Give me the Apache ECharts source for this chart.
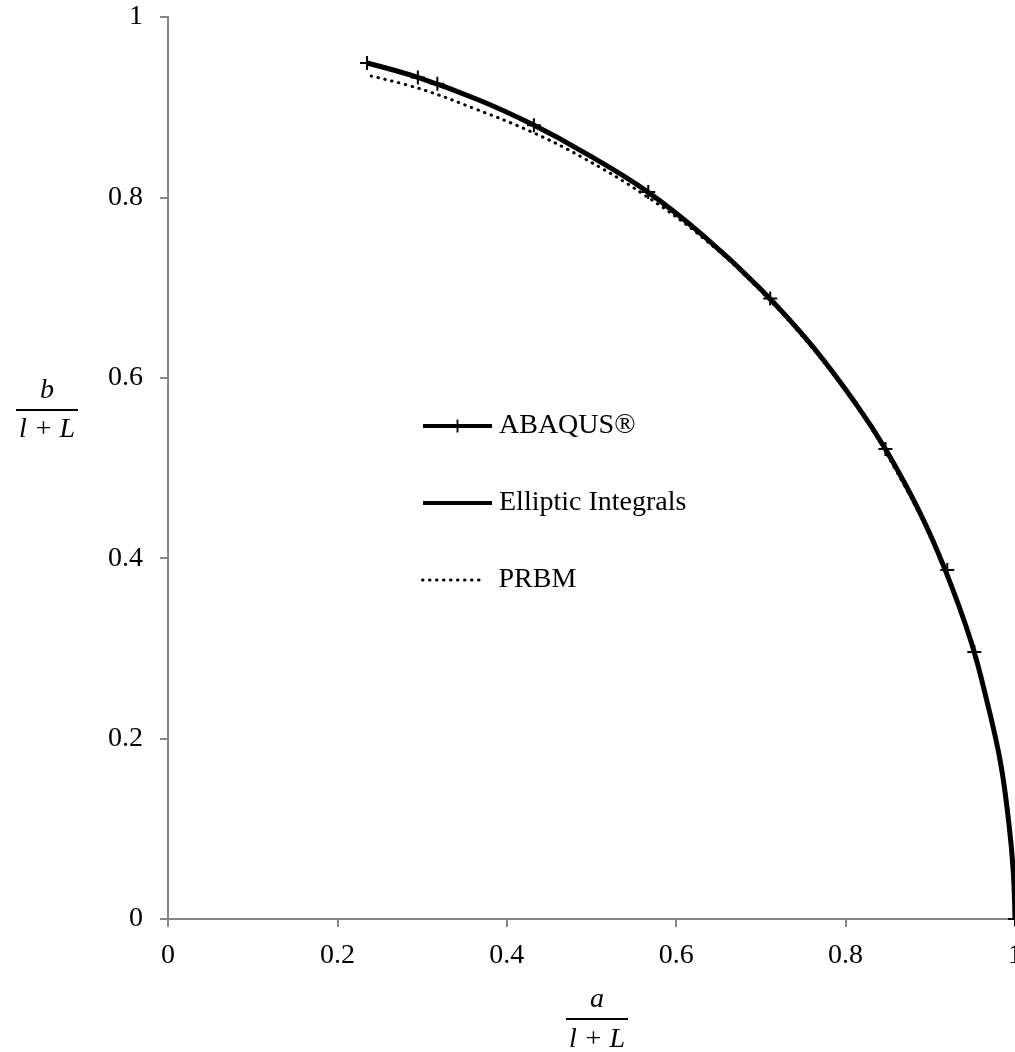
<!DOCTYPE html>
<html>
<head>
<meta charset="utf-8">
<script src="https://cdn.jsdelivr.net/npm/echarts@6/dist/echarts.min.js"></script>
<style>
html,body{margin:0;padding:0;background:#fff;}
#c{width:1015px;height:1052px;}
</style>
</head>
<body>
<div id="c"></div>
<script>
// ---- data ----
var abaqusX = [0.235, 0.295, 0.318, 0.432, 0.567, 0.711, 0.847, 0.920, 0.952, 1.0];
var abaqusY = [0.949, 0.933, 0.926, 0.880, 0.806, 0.688, 0.521, 0.387, 0.296, 0.0];

var ellipticX = [0.235, 0.295, 0.367, 0.430, 0.491, 0.565, 0.634, 0.699, 0.759, 0.813, 0.847, 0.887, 0.918, 0.948, 0.967, 0.983, 0.993, 0.998, 1.0];
var ellipticY = [0.949, 0.933, 0.908, 0.881, 0.850, 0.807, 0.756, 0.699, 0.637, 0.570, 0.521, 0.452, 0.386, 0.308, 0.241, 0.173, 0.104, 0.052, 0.0];

var prbmX = [0.240, 0.299, 0.363, 0.426, 0.488, 0.562, 0.633, 0.698, 0.758, 0.813, 0.860, 0.902, 0.936, 0.963, 0.983, 0.994, 1.0];
var prbmY = [0.9345, 0.920, 0.898, 0.874, 0.845, 0.803, 0.754, 0.698, 0.636, 0.569, 0.4965, 0.420, 0.341, 0.258, 0.173, 0.100, 0.0];

var xTicks = [0, 0.2, 0.4, 0.6, 0.8, 1];
var yTicks = [0, 0.2, 0.4, 0.6, 0.8, 1];
var seriesNames = ['ABAQUS®', 'Elliptic Integrals', 'PRBM'];

function pairs(xs, ys) { return xs.map(function (x, i) { return [x, ys[i]]; }); }

var FONT = '"Liberation Serif", "Times New Roman", serif';
var AXIS = '#878787';
var plus = 'path://M6,0 H8 V6 H14 V8 H8 V14 H6 V8 H0 V6 H6 Z';
var DOTS = [0.5, 6.5];

var legendText = {fontFamily: FONT, fontSize: 28, color: '#000', lineHeight: 28};

var chart = echarts.init(document.getElementById('c'), null, {renderer: 'canvas'});
var option = {
  backgroundColor: '#fff',
  animation: false,
  grid: {left: 168, right: 0, top: 17, bottom: 133, containLabel: false, outerBoundsMode: 'none'},
  xAxis: {
    type: 'value', min: xTicks[0], max: xTicks[xTicks.length - 1], interval: 0.2,
    axisLine: {show: true, lineStyle: {color: AXIS, width: 2}},
    axisTick: {show: true, inside: false, length: 8, lineStyle: {color: AXIS, width: 2}},
    axisLabel: {color: '#000', fontFamily: FONT, fontSize: 28, margin: 23},
    splitLine: {show: false}
  },
  yAxis: {
    type: 'value', min: yTicks[0], max: yTicks[yTicks.length - 1], interval: 0.2,
    axisLine: {show: true, lineStyle: {color: AXIS, width: 2}},
    axisTick: {show: true, inside: false, length: 8, lineStyle: {color: AXIS, width: 2}},
    axisLabel: {color: '#000', fontFamily: FONT, fontSize: 28, margin: 25},
    splitLine: {show: false}
  },
  legend: [
    {data: [seriesNames[0]], left: 421, top: 412, itemWidth: 69, itemHeight: 16, padding: 0,
     lineStyle: {width: 4, color: '#000', opacity: 1},
     textStyle: Object.assign({padding: [0, 0, 0, 2]}, legendText)},
    {data: [seriesNames[1]], left: 421, top: 489, itemWidth: 69, itemHeight: 16, padding: 0,
     itemStyle: {opacity: 0},
     lineStyle: {width: 4, color: '#000', opacity: 1},
     textStyle: Object.assign({padding: [0, 0, 0, 2]}, legendText)},
    {data: [seriesNames[2]], left: 421, top: 566, itemWidth: 62, itemHeight: 16, padding: 0,
     itemStyle: {opacity: 0},
     lineStyle: {width: 3, color: '#000', opacity: 1, type: DOTS, cap: 'round'},
     textStyle: Object.assign({padding: [0, 0, 0, 9]}, legendText)}
  ],
  series: [
    {
      name: seriesNames[2], type: 'line', data: pairs(prbmX, prbmY), smooth: 0.4,
      symbol: 'none', z: 1,
      lineStyle: {color: '#000', width: 3, type: DOTS, cap: 'round'},
      itemStyle: {color: '#000'}
    },
    {
      // ABAQUS points; its connecting line runs underneath the elliptic-integral curve
      name: seriesNames[0], type: 'line', data: pairs(abaqusX, abaqusY), smooth: 0.35,
      symbol: plus, symbolSize: 14, showAllSymbol: true, z: 2,
      lineStyle: {color: '#000', width: 2, opacity: 0},
      itemStyle: {color: '#000'}
    },
    {
      name: seriesNames[1], type: 'line', data: pairs(ellipticX, ellipticY), smooth: 0.4,
      symbol: 'none', z: 3,
      lineStyle: {color: '#000', width: 5},
      itemStyle: {color: '#000'}
    }
  ],
  graphic: [
    // x axis title: a / (l + L)
    {type: 'text', x: 597, y: 1000, style: {text: 'a', font: 'italic 28px ' + FONT, fill: '#000', align: 'center', verticalAlign: 'middle'}},
    {type: 'rect', shape: {x: 566, y: 1018, width: 62, height: 2}, style: {fill: '#000'}},
    {type: 'text', x: 597, y: 1040, style: {text: 'l + L', font: 'italic 28px ' + FONT, fill: '#000', align: 'center', verticalAlign: 'middle'}},
    // y axis title: b / (l + L)
    {type: 'text', x: 47, y: 391, style: {text: 'b', font: 'italic 28px ' + FONT, fill: '#000', align: 'center', verticalAlign: 'middle'}},
    {type: 'rect', shape: {x: 16, y: 409, width: 62, height: 2}, style: {fill: '#000'}},
    {type: 'text', x: 47, y: 430, style: {text: 'l + L', font: 'italic 28px ' + FONT, fill: '#000', align: 'center', verticalAlign: 'middle'}}
  ]
};
chart.setOption(option);
</script>
</body>
</html>
